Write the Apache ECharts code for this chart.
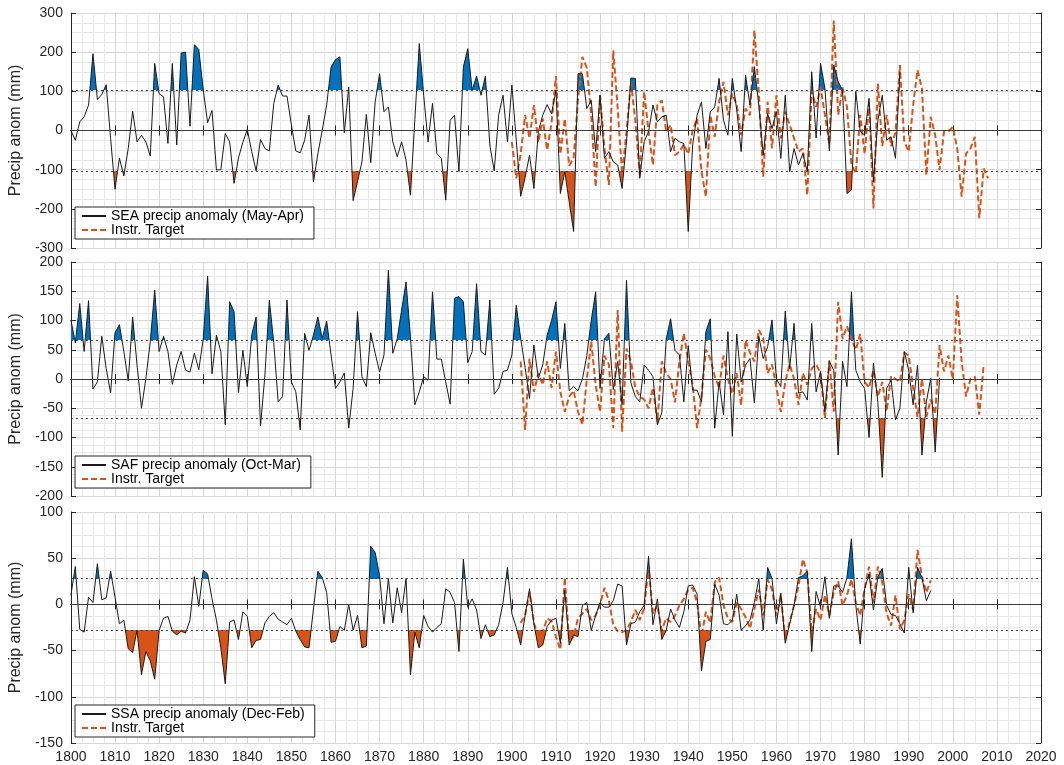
<!DOCTYPE html>
<html><head><meta charset="utf-8">
<script src="https://cdn.jsdelivr.net/npm/echarts@6/dist/echarts.min.js"></script>
<style>html,body{margin:0;padding:0;background:#fff}#c{width:1064px;height:765px}</style>
</head><body><div id="c"></div><script>
// ---------- DATA ----------
const xTicks = [1800,1810,1820,1830,1840,1850,1860,1870,1880,1890,1900,1910,1920,1930,1940,1950,1960,1970,1980,1990,2000,2010,2020];

const seaLabel = 'SEA precip anomaly (May-Apr)';
const seaThreshold = 103;
const seaReconStart = 1800;
const seaRecon = [
 0,-25,22,35,65,196,79,92,117,-20,
 -150,-71,-116,-46,49,-29,-12,-29,-65,171,
 94,86,-33,171,-37,198,200,11,219,207,
 105,20,51,-101,-100,-8,-29,-135,-70,-30,
 3,-54,-103,-23,-46,-52,69,116,88,88,
 14,-52,-57,-25,39,-131,-60,1,65,162,
 181,188,-6,111,-179,-130,-80,41,-82,73,
 145,48,60,-29,-67,-29,-76,-165,28,222,
 90,-29,69,-59,-71,-178,26,39,-105,162,
 209,103,139,90,139,-37,-103,39,90,-29,
 116,-25,-168,-120,-63,-148,-3,39,66,43,
 103,-161,-105,-182,-258,145,145,56,77,-54,
 90,-71,-54,-80,-88,-148,-29,134,133,-122,
 -29,-3,65,22,35,39,-54,-20,-29,-33,
 -258,-37,39,73,-46,48,60,133,26,-12,
 133,52,-54,141,65,163,65,-63,43,5,
 48,-71,90,-105,-46,-88,-59,-105,150,-19,
 172,107,-52,167,125,103,-161,-152,100,-2,
 -12,82,-131,26,90,-25,-16,-71,150
];
const seaInstrStart = 1900;
const seaInstr = [
 -30,-122,-60,40,-20,65,-30,30,-50,20,
 139,-60,30,-90,-70,80,188,160,40,-144,
 90,-46,-139,205,56,-110,-3,124,26,-114,
 99,-3,-88,65,77,-3,14,-63,-54,-35,
 -60,0,31,-105,-169,39,-16,73,124,39,
 94,65,-12,56,39,256,99,-118,73,-46,
 90,-20,48,14,-20,-54,-46,-165,100,60,
 110,40,-35,281,40,110,60,-85,-110,40,
 -60,70,-199,120,-40,40,-40,-5,167,-29,
 -54,65,154,107,-114,35,-12,-101,-3,-2,
 9,-46,-169,-59,-46,-16,-224,-97,-122
];

const safLabel = 'SAF precip anomaly (Oct-Mar)';
const safThreshold = 67;
const safReconStart = 1800;
const safRecon = [
 101,62,129,47,134,-17,-5,73,18,-24,
 79,93,47,-3,106,24,-50,1,64,152,
 47,73,47,-9,24,47,15,12,44,16,
 68,176,9,75,47,-78,132,115,-23,49,
 -13,75,106,-80,7,135,62,-39,-30,135,
 -5,-22,-87,78,49,75,106,69,99,41,
 -16,-5,10,-84,-16,115,4,-13,79,44,
 12,41,186,44,69,118,166,72,-44,-22,
 4,-2,149,34,34,-5,-43,138,141,132,
 28,47,163,47,41,135,-26,-16,13,15,
 41,126,69,20,-33,58,1,24,75,100,
 132,18,95,-20,-13,-20,0,40,100,149,
 -16,69,78,-18,30,-44,169,-7,-30,-39,
 24,15,4,-78,-58,68,103,49,41,-39,
 57,-19,-19,-39,81,103,-84,-5,-61,81,
 -98,77,-5,24,35,-41,73,35,55,101,
 0,-13,116,18,95,-24,-22,-36,95,-22,
 13,-56,30,15,-130,30,-13,149,15,-5,
 -16,-100,27,-39,-168,-16,-2,-70,-50,47,
 15,-44,24,-130,-39,1,-125,2
];
const safInstrStart = 1902;
const safInstr = [
 30,-87,35,-22,10,-10,30,-15,
 47,-22,-56,-30,-20,-56,-78,0,64,-10,
 -56,40,25,-84,118,-90,52,30,-15,-30,
 -35,-50,-15,-73,30,10,0,-40,30,78,
 30,-10,-84,-30,50,35,5,-15,40,0,
 -25,10,-45,66,45,30,84,70,10,25,
 -15,-56,-5,25,0,-44,10,-10,18,25,
 10,-67,32,-56,132,69,90,69,50,77,
 -5,-15,15,-30,-5,-55,5,0,-5,45,
 40,-15,-65,0,-65,-35,-60,58,13,40,
 0,143,30,-30,0,4,-61,24
];

const ssaLabel = 'SSA precip anomaly (Dec-Feb)';
const ssaThreshold = 28;
const ssaReconStart = 1800;
const ssaRecon = [
 10,41,-27,-30,8,2,44,5,7,36,
 8,-21,-17,-48,-52,-28,-76,-51,-61,-81,
 -28,-15,-13,-29,-33,-29,-31,-17,30,-2,
 37,33,6,-17,-47,-86,-19,-17,-38,-8,
 -13,-47,-39,-38,-20,-13,-9,-16,-19,-22,
 -15,-29,-38,-46,-47,-5,36,29,13,-41,
 -40,-24,-28,0,-28,-12,-47,-45,63,56,
 31,-21,28,-20,18,-9,28,-76,-30,-47,
 -12,-24,-30,-25,-21,17,13,2,-51,49,
 -3,6,-6,-37,-22,-35,-33,-22,2,40,
 -10,-25,-44,-12,17,-21,-47,-44,-24,-17,
 -15,-42,15,-44,-33,-35,-1,2,-28,-12,
 2,-3,-3,4,22,20,-44,-21,-19,-8,
 -1,52,-22,6,-38,-28,-5,-17,-25,-8,
 20,21,11,-72,-40,-38,22,10,-21,-22,
 -17,11,-28,-23,-17,2,28,-28,40,28,
 -21,12,-42,-21,-1,29,31,36,-51,14,
 -3,30,-15,20,20,13,29,71,-1,-43,
 17,33,-6,30,39,-1,-11,-12,-21,-31,
 40,-9,40,29,4,15
];
const ssaInstrStart = 1902;
const ssaInstr = [
 -20,-12,13,-20,-35,-30,-15,-18,
 -35,-49,29,-40,-35,-15,-10,-5,-17,-12,
 0,18,4,-22,-29,-30,-28,-19,-6,-17,
 -4,41,-10,-1,-28,-15,-19,-12,-1,6,
 16,18,2,-35,-8,-20,24,29,-1,-15,
 -19,2,-5,-14,-26,-5,16,-12,27,16,
 -12,10,-38,-19,-1,20,49,34,-30,-5,
 -17,10,-12,13,25,-1,10,27,2,-12,
 17,41,2,41,24,-10,-23,10,-27,-17,
 11,-6,59,30,13,26
];
const instrLabel = 'Instr. Target';

// y axis ranges (min, max, step)
const seaYTicks = [-300, 300, 100];
const safYTicks = [-200, 200, 50];
const ssaYTicks = [-150, 100, 50];

// ---------- CHART ----------
const BLUE = '#0072BD', ORANGE = '#D95319', TXT = '#262626';
const FONT = '"Liberation Sans", Arial, Helvetica, sans-serif';
function pts(start, vals) { return vals.map((v, i) => [start + i, v]); }

const panels = [
  {label: seaLabel, thr: seaThreshold, recon: pts(seaReconStart, seaRecon), instr: pts(seaInstrStart, seaInstr), y: seaYTicks},
  {label: safLabel, thr: safThreshold, recon: pts(safReconStart, safRecon), instr: pts(safInstrStart, safInstr), y: safYTicks},
  {label: ssaLabel, thr: ssaThreshold, recon: pts(ssaReconStart, ssaRecon), instr: pts(ssaInstrStart, ssaInstr), y: ssaYTicks}
];
const layout = [
  {top: 13, height: 235, legendTop: 207},
  {top: 262, height: 234, legendTop: 456},
  {top: 512, height: 231, legendTop: 705}
];

const grid = [], xAxis = [], yAxis = [], series = [], legend = [], visualMap = [];
panels.forEach((p, i) => {
  const L = layout[i];
  grid.push({left: 67, right: 23, top: L.top, height: L.height, containLabel: false});
  const axLine = {show: true, lineStyle: {color: TXT, width: 1}};
  const tick = {show: true, inside: true, length: 5, lineStyle: {color: TXT}};
  xAxis.push({
    gridIndex: i, type: 'value', min: xTicks[0], max: xTicks[xTicks.length - 1], interval: xTicks[1] - xTicks[0],
    position: 'bottom', axisLine: axLine, axisTick: tick,
    axisLabel: {show: i === 2, color: TXT, fontSize: 14, fontFamily: FONT, margin: 7, formatter: v => String(v)},
    splitLine: {show: true, lineStyle: {color: '#d6d6d6', width: 1}},
    minorTick: {show: false, splitNumber: 4},
    minorSplitLine: {show: true, lineStyle: {color: '#e8e8e8', width: 1}}
  });
  xAxis.push({
    gridIndex: i, type: 'value', min: xTicks[0], max: xTicks[xTicks.length - 1], interval: xTicks[1] - xTicks[0],
    position: 'top', axisLine: axLine, axisTick: tick, axisLabel: {show: false}, splitLine: {show: false}
  });
  yAxis.push({
    gridIndex: i, type: 'value', min: p.y[0], max: p.y[1], interval: p.y[2], position: 'left',
    axisLine: axLine, axisTick: tick,
    axisLabel: {color: TXT, fontSize: 14, fontFamily: FONT, margin: 8},
    name: 'Precip anom (mm)', nameLocation: 'middle', nameGap: 37,
    nameTextStyle: {color: TXT, fontSize: 16, fontFamily: FONT},
    splitLine: {show: true, lineStyle: {color: '#d6d6d6', width: 1}},
    minorTick: {show: false, splitNumber: 4},
    minorSplitLine: {show: true, lineStyle: {color: '#e8e8e8', width: 1}}
  });
  yAxis.push({
    gridIndex: i, type: 'value', min: p.y[0], max: p.y[1], interval: p.y[2], position: 'right',
    axisLine: axLine, axisTick: tick, axisLabel: {show: false}, splitLine: {show: false}
  });
  const xi = 2 * i, yi = 2 * i;
  // threshold exceedance fill
  series.push({
    type: 'line', xAxisIndex: xi, yAxisIndex: yi, data: p.recon, symbol: 'none', silent: true,
    lineStyle: {width: 0, opacity: 0}, areaStyle: {opacity: 1}, z: 1
  });
  series.push({
    name: instrLabel, type: 'line', xAxisIndex: xi, yAxisIndex: yi, data: p.instr, symbol: 'none', silent: true,
    lineStyle: {color: ORANGE, width: 2, type: [6, 3]}, itemStyle: {color: ORANGE}, z: 2
  });
  series.push({
    name: p.label, type: 'line', xAxisIndex: xi, yAxisIndex: yi, data: p.recon, symbol: 'none', silent: true,
    lineStyle: {color: '#1a1a1a', width: 1}, itemStyle: {color: '#1a1a1a'}, z: 3,
    markLine: {
      silent: true, symbol: 'none', label: {show: false},
      data: [
        {yAxis: 0, lineStyle: {color: '#3c3c3c', width: 1, type: 'solid'}},
        {yAxis: p.thr, lineStyle: {color: '#3c3c3c', width: 1, type: [2, 3]}},
        {yAxis: -p.thr, lineStyle: {color: '#3c3c3c', width: 1, type: [2, 3]}}
      ]
    }
  });
  visualMap.push({
    type: 'piecewise', show: false, seriesIndex: 3 * i, dimension: 1,
    pieces: [
      {gt: p.thr, color: BLUE},
      {gt: -p.thr, lte: p.thr, color: 'rgba(255,255,255,0)'},
      {lte: -p.thr, color: ORANGE}
    ]
  });
  legend.push({
    data: [p.label, instrLabel], orient: 'vertical', left: 75, top: L.legendTop,
    selectedMode: false, itemWidth: 24, itemHeight: 13, itemGap: 0,
    itemStyle: {opacity: 0, borderWidth: 0},
    padding: [2, 10, 2, 6], borderColor: TXT, borderWidth: 1, backgroundColor: '#fff',
    textStyle: {color: '#000', fontSize: 14, fontFamily: FONT}
  });
});

const chart = echarts.init(document.getElementById('c'), null, {renderer: 'canvas'});
chart.setOption({
  animation: false, backgroundColor: '#fff',
  grid, xAxis, yAxis, series, legend, visualMap
});
</script></body></html>
